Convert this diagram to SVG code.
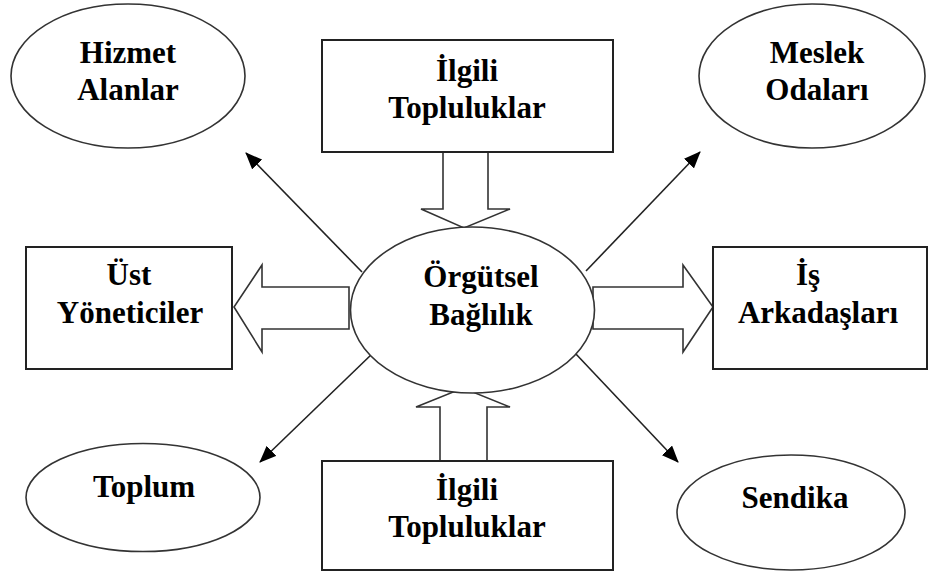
<svg xmlns="http://www.w3.org/2000/svg" width="928" height="572" viewBox="0 0 928 572">
<defs>
<marker id="ah" markerUnits="userSpaceOnUse" markerWidth="18" markerHeight="14" refX="16" refY="7" orient="auto">
<path d="M0,0 L17,7 L0,14 z" fill="#000"/>
</marker>
</defs>
<style>
.t{font-family:"Liberation Serif","Times New Roman",serif;font-weight:bold;font-size:31px;fill:#000;text-anchor:middle}
.el{fill:#fff;stroke:#333;stroke-width:1.6}
.bx{fill:#fff;stroke:#222;stroke-width:2}
.ba{fill:#fff;stroke:#333;stroke-width:1.6;stroke-linejoin:miter}
.ln{stroke:#222;stroke-width:1.6;fill:none}
</style>
<rect width="928" height="572" fill="#fff"/>
<g id="connectors">
<polygon class="ba" points="443,152 488,152 488,209 510,209 464,228 421,209 443,209"/>
<polygon class="ba" points="440,461 487,461 487,407 510,407 463,388 416,407 440,407"/>
<polygon class="ba" points="349,287 262,287 262,265 234,307 262,352 262,329 349,329"/>
<polygon class="ba" points="593,287 683,287 683,265 713,307 683,352 683,329 593,329"/>
<line class="ln" x1="362" y1="272" x2="246" y2="153" marker-end="url(#ah)"/>
<line class="ln" x1="586" y1="271" x2="700" y2="152" marker-end="url(#ah)"/>
<line class="ln" x1="373" y1="353" x2="260" y2="462" marker-end="url(#ah)"/>
<line class="ln" x1="575" y1="353" x2="678" y2="462" marker-end="url(#ah)"/>
</g>
<g id="hizmet">
<ellipse class="el" cx="128" cy="76" rx="117" ry="72"/>
<text class="t" x="128" y="63">Hizmet</text>
<text class="t" x="128" y="100">Alanlar</text>
</g>
<g id="ilgili-top">
<rect class="bx" x="322" y="40" width="291" height="112"/>
<text class="t" x="467" y="81">İlgili</text>
<text class="t" x="467" y="118">Topluluklar</text>
</g>
<g id="meslek">
<ellipse class="el" cx="812" cy="76" rx="113" ry="72"/>
<text class="t" x="817" y="63">Meslek</text>
<text class="t" x="817" y="100">Odaları</text>
</g>
<g id="ust">
<rect class="bx" x="26" y="247" width="206" height="122"/>
<text class="t" x="129" y="285">Üst</text>
<text class="t" x="130" y="323">Yöneticiler</text>
</g>
<g id="orgutsel">
<ellipse class="el" cx="472.5" cy="310" rx="122" ry="83"/>
<text class="t" x="481" y="287">Örgütsel</text>
<text class="t" x="481" y="325">Bağlılık</text>
</g>
<g id="is">
<rect class="bx" x="713" y="247" width="214" height="122"/>
<text class="t" x="808" y="285">İş</text>
<text class="t" x="818" y="323">Arkadaşları</text>
</g>
<g id="toplum">
<ellipse class="el" cx="143" cy="497.5" rx="117" ry="54"/>
<text class="t" x="144" y="497">Toplum</text>
</g>
<g id="ilgili-bottom">
<rect class="bx" x="322" y="461" width="291" height="109"/>
<text class="t" x="467" y="500">İlgili</text>
<text class="t" x="467" y="537">Topluluklar</text>
</g>
<g id="sendika">
<ellipse class="el" cx="791" cy="512.5" rx="114" ry="57.5"/>
<text class="t" x="795" y="508">Sendika</text>
</g>
</svg>
